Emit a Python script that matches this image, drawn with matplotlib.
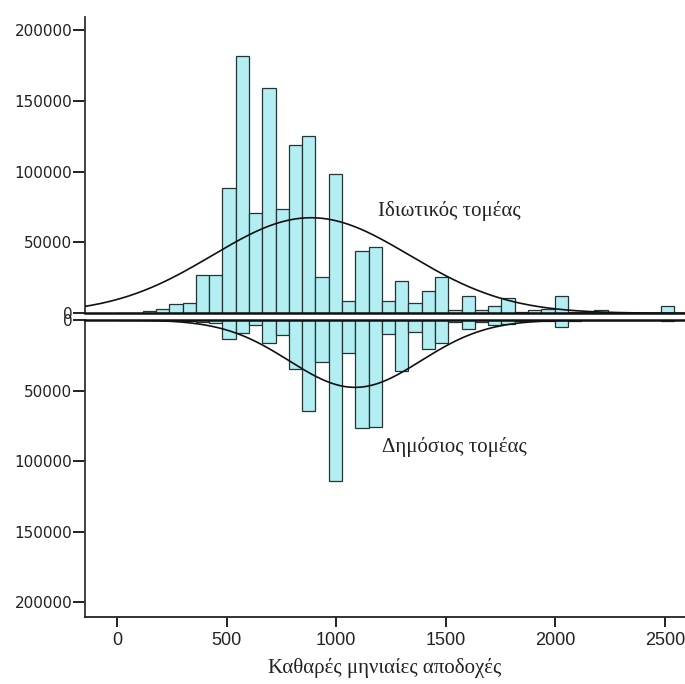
import numpy as np
import matplotlib.pyplot as plt

# histogram bins (net monthly earnings)
bin_start = -4
bin_width = 60.6

# private sector (upper half), counts per bin
private_counts = [0, 500, 1600, 3300, 6600, 7500, 27100, 27000, 88800, 181400,
                  70700, 159000, 73300, 119000, 124900, 25700, 98500, 9000, 44300, 47100,
                  9000, 22600, 7100, 16000, 25900, 2400, 12000, 2400, 5400, 10600,
                  900, 2400, 2800, 12200, 700, 700, 2400, 0, 0, 0,
                  0, 5200]
# public sector (lower half), counts per bin
public_counts = [0, 0, 0, 0, 300, 800, 1200, 2400, 13400, 9400,
                 3200, 16000, 10600, 34900, 64800, 29700, 114000, 23600, 76600, 75900,
                 10000, 36500, 8600, 20700, 16500, 1200, 6600, 1200, 3200, 2500,
                 700, 700, 600, 5200, 800, 300, 0, 0, 0, 0,
                 0, 700]

# normal curve parameters
private_mean, private_sd = 885, 450
public_mean, public_sd = 1086, 300

y_ticks = [0, 50000, 100000, 150000, 200000]
x_ticks = [0, 500, 1000, 1500, 2000, 2500]

label_private = "Ιδιωτικός τομέας"
label_public = "Δημόσιος τομέας"
x_title = "Καθαρές μηνιαίες αποδοχές"

bar_color = '#b2eef2'
edge_color = '#253535'

W, H = 685, 684
fig = plt.figure(figsize=(W / 100, H / 100), dpi=100)
ax1 = fig.add_axes([85 / W, 1 - 313.3 / H, 1 - 85 / W, (313.3 - 17) / H])
ax2 = fig.add_axes([85 / W, 1 - 617 / H, 1 - 85 / W, (617 - 320) / H])

left_edges = bin_start + bin_width * np.arange(len(private_counts))
xs = np.linspace(-200, 2700, 600)


def normal_curve(counts, mean, sd):
    scale = np.sum(counts) * bin_width
    return scale * np.exp(-(xs - mean) ** 2 / (2 * sd ** 2)) / (sd * np.sqrt(2 * np.pi))


for ax, counts, mean, sd in [(ax1, private_counts, private_mean, private_sd),
                             (ax2, public_counts, public_mean, public_sd)]:
    ax.bar(left_edges, counts, width=bin_width, align='edge', color=bar_color,
           edgecolor=edge_color, linewidth=0.9, zorder=2)
    ax.plot(xs, normal_curve(counts, mean, sd), color='#111111', lw=1.2, zorder=3)
    ax.set_xlim(-146, 2591)
    ax.set_yticks(y_ticks)
    ax.set_yticklabels([str(v) for v in y_ticks], fontsize=11, color='#222222',
                       family='DejaVu Sans')
    ax.tick_params(axis='y', length=8.6, width=1.4, pad=0.5, color='#222222')
    ax.spines['right'].set_visible(False)
    ax.spines['left'].set_linewidth(1.3)
    ax.spines['left'].set_color('#333333')

ax1.set_ylim(0, 209200)
ax1.spines['top'].set_visible(False)
ax1.spines['bottom'].set_linewidth(1.8)
ax1.spines['bottom'].set_color('#111111')
ax1.tick_params(axis='x', bottom=False, labelbottom=False)

ax2.set_ylim(210600, 0)
ax2.spines['top'].set_linewidth(1.8)
ax2.spines['top'].set_color('#111111')
ax2.spines['bottom'].set_linewidth(1.3)
ax2.spines['bottom'].set_color('#222222')
ax2.set_xticks(x_ticks)
ax2.set_xticklabels([str(v) for v in x_ticks], fontsize=13, color='#222222',
                    family='Liberation Sans')
ax2.tick_params(axis='x', length=7, width=1.4, pad=4, color='#222222')
ax2.set_xlabel(x_title, fontsize=15, family='Liberation Serif', color='#222222',
               labelpad=6)

ax1.text(1191, 72000, label_private, fontsize=15, family='Liberation Serif',
         color='#222222', ha='left', va='center')
ax2.text(1209, 90000, label_public, fontsize=15, family='Liberation Serif',
         color='#222222', ha='left', va='center')

fig.savefig('out.png', dpi=100)
